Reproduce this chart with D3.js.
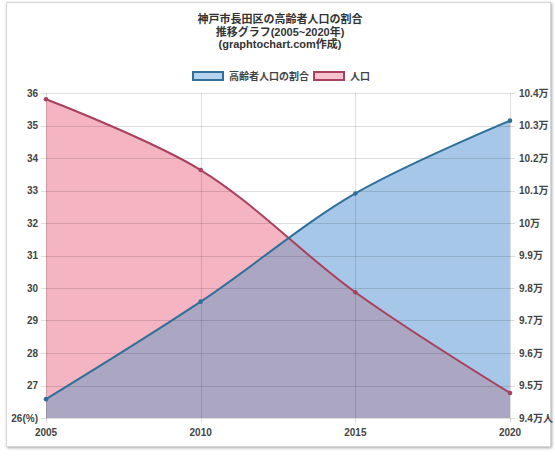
<!DOCTYPE html>
<html><head><meta charset="utf-8">
<script src="https://cdn.jsdelivr.net/npm/d3@7/dist/d3.min.js"></script>
<style>
html,body{margin:0;padding:0;background:#fff;}
svg{display:block;}
text{font-family:"Liberation Sans","Noto Sans CJK JP",Arial,sans-serif;}
</style></head>
<body>
<svg id="c" width="555" height="456"></svg>
<script>
const years = [2005, 2010, 2015, 2020];
const ratio = [26.58, 29.58, 32.91, 35.15];
const population = [103806, 101630, 97870, 94770];
const leftTicks = [26,27,28,29,30,31,32,33,34,35,36];
const leftLabels = ["26(%)","27","28","29","30","31","32","33","34","35","36"];
const rightTicks = [94000,95000,96000,97000,98000,99000,100000,101000,102000,103000,104000];
const rightLabels = ["9.4万人","9.5万","9.6万","9.7万","9.8万","9.9万","10万","10.1万","10.2万","10.3万","10.4万"];
const titleLines = ["神戸市長田区の高齢者人口の割合","推移グラフ(2005~2020年)","(graphtochart.com作成)"];
const seriesNames = ["高齢者人口の割合","人口"];

const svg = d3.select("#c");
const defs = svg.append("defs");
const f = defs.append("filter").attr("id","sh").attr("x","-5%").attr("y","-5%").attr("width","110%").attr("height","110%");
f.append("feDropShadow").attr("dx",1).attr("dy",1).attr("stdDeviation",1.5).attr("flood-color","#000").attr("flood-opacity",0.35);

svg.append("rect").attr("x",6.5).attr("y",2.5).attr("width",544).attr("height",444)
  .attr("fill","#fff").attr("stroke","#d6d6d6").attr("filter","url(#sh)");

const L = 46, R = 510, T = 93, B = 418;
const x = d3.scaleLinear().domain([2005,2020]).range([L,R]);
const yL = d3.scaleLinear().domain([26,36]).range([B,T]);
const yR = d3.scaleLinear().domain([94000,104000]).range([B,T]);

const g = svg.append("g");

const curve = d3.curveCatmullRom.alpha(0.5);
const popPts = years.map((yr,i)=>[x(yr), yR(population[i])]);
const ratPts = years.map((yr,i)=>[x(yr), yL(ratio[i])]);

const area = d3.area().x(d=>d[0]).y0(B).y1(d=>d[1]).curve(curve);
const line = d3.line().x(d=>d[0]).y(d=>d[1]).curve(curve);

defs.append("clipPath").attr("id","popclip").append("path").attr("d",area(popPts));

g.append("path").attr("d",area(popPts)).attr("fill","#f5b4c1");
g.append("path").attr("d",area(ratPts)).attr("fill","#a6c7e8");
g.append("path").attr("d",area(ratPts)).attr("fill","#aba7c2").attr("clip-path","url(#popclip)");

// grid (semi-transparent, on top of fills like Chart.js)
g.selectAll(".hg").data(leftTicks).join("line")
  .attr("x1",L-5).attr("x2",R+5).attr("y1",d=>Math.round(yL(d))+0.5).attr("y2",d=>Math.round(yL(d))+0.5)
  .attr("stroke","rgba(0,0,0,0.13)").attr("stroke-width",1);
g.selectAll(".vg").data(years).join("line")
  .attr("y1",T).attr("y2",B+5).attr("x1",d=>Math.round(x(d))+0.5).attr("x2",d=>Math.round(x(d))+0.5)
  .attr("stroke","rgba(0,0,0,0.13)").attr("stroke-width",1);

g.append("path").attr("d",line(popPts)).attr("fill","none").attr("stroke","#a8405e").attr("stroke-width",2);
g.append("path").attr("d",line(ratPts)).attr("fill","none").attr("stroke","#2f7099").attr("stroke-width",2);

g.selectAll(".pp").data(popPts).join("circle").attr("cx",d=>d[0]).attr("cy",d=>d[1]).attr("r",2.3).attr("fill","#a8405e");
g.selectAll(".rp").data(ratPts).join("circle").attr("cx",d=>d[0]).attr("cy",d=>d[1]).attr("r",2.3).attr("fill","#2f7099");

// axes labels
const lab = {fill:"#444","font-size":"10px","font-weight":"bold"};
function sty(sel){ Object.entries(lab).forEach(([k,v])=>sel.attr(k,v)); return sel; }
sty(g.selectAll(".ll").data(leftTicks).join("text")
  .attr("x",L-8).attr("y",d=>yL(d)+3.5).attr("text-anchor","end").text((d,i)=>leftLabels[i]));
sty(g.selectAll(".rl").data(rightTicks).join("text")
  .attr("x",R+9).attr("y",d=>yR(d)+3.5).attr("text-anchor","start").text((d,i)=>rightLabels[i]));
sty(g.selectAll(".xl").data(years).join("text")
  .attr("x",d=>x(d)).attr("y",436).attr("text-anchor","middle").text(d=>d));

// title
svg.selectAll(".tt").data(titleLines).join("text")
  .attr("x",280).attr("y",(d,i)=>23+i*12.5).attr("text-anchor","middle")
  .attr("font-size","11px").attr("font-weight","bold").attr("fill","#333").text(d=>d);

// legend
const leg = [{n:seriesNames[0],fill:"#b5d3ef",stroke:"#2f7099",x:192},{n:seriesNames[1],fill:"#f7c3cd",stroke:"#a8405e",x:313}];
leg.forEach(l=>{
  svg.append("rect").attr("x",l.x+1).attr("y",72).attr("width",30).attr("height",8).attr("fill",l.fill).attr("stroke",l.stroke).attr("stroke-width",2);
  svg.append("text").attr("x",l.x+37).attr("y",80).attr("font-size","10px").attr("font-weight","bold").attr("fill","#444").text(l.n);
});
</script>
</body></html>
